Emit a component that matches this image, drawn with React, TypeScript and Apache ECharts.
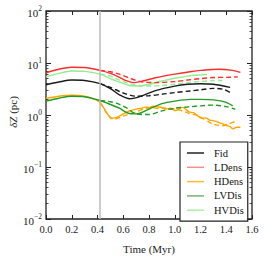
import React, { useEffect, useRef } from "react";
import * as echarts from "echarts";

// ---- data ----
const fidT = [0, 0.1, 0.2, 0.3, 0.42, 0.5, 0.57, 0.65, 0.75, 0.85, 1.0, 1.1, 1.2, 1.3, 1.43];
const fidV = [3.8, 4.3, 4.7, 4.6, 4.0, 3.2, 2.45, 2.05, 2.35, 2.95, 3.6, 3.9, 4.0, 3.9, 3.4];
const fidDashT = [0.42, 0.5, 0.6, 0.7, 0.8, 0.9, 1.0, 1.12, 1.2, 1.3, 1.38, 1.43];
const fidDashV = [4.0, 3.4, 2.65, 2.3, 2.35, 2.5, 2.7, 2.9, 3.05, 3.25, 3.1, 2.7];

const ldT = [0, 0.1, 0.2, 0.3, 0.42, 0.5, 0.57, 0.62, 0.68, 0.75, 0.85, 1.0, 1.12, 1.2, 1.34, 1.45, 1.51];
const ldV = [6.5, 7.6, 8.3, 8.2, 7.2, 6.3, 5.3, 4.6, 4.2, 4.5, 5.2, 6.1, 6.8, 7.2, 7.6, 7.2, 6.6];
const ldDashT = [0.42, 0.5, 0.57, 0.65, 0.75, 0.85, 1.0, 1.1, 1.2, 1.3, 1.4, 1.49];
const ldDashV = [7.2, 6.8, 6.1, 5.1, 4.3, 4.2, 4.4, 4.7, 5.0, 5.25, 5.3, 5.4];

const hdT = [0, 0.1, 0.2, 0.3, 0.38, 0.42, 0.45, 0.48, 0.51, 0.55, 0.6, 0.64, 0.7, 0.74, 0.77, 0.8, 0.83, 0.87, 0.9, 0.93, 0.97, 1.0, 1.03, 1.06, 1.08, 1.11, 1.15, 1.18, 1.21, 1.24, 1.27, 1.3, 1.34, 1.37, 1.4, 1.43, 1.45, 1.48, 1.51];
const hdV = [2.1, 2.3, 2.4, 2.3, 2.0, 1.75, 1.35, 1.02, 0.87, 0.9, 1.05, 1.18, 1.3, 1.35, 1.42, 1.4, 1.47, 1.43, 1.4, 1.3, 1.35, 1.2, 1.3, 1.4, 1.32, 1.15, 1.1, 0.95, 0.86, 0.88, 0.8, 0.78, 0.72, 0.68, 0.63, 0.6, 0.54, 0.58, 0.58];
const hdDashT = [0.42, 0.46, 0.5, 0.53, 0.6, 0.7, 0.76, 0.82, 0.87, 0.92, 1.0, 1.05, 1.1, 1.14, 1.18, 1.22, 1.26, 1.29, 1.33, 1.37, 1.41, 1.45, 1.49];
const hdDashV = [1.75, 1.2, 0.88, 0.83, 0.95, 1.15, 1.3, 1.38, 1.33, 1.36, 1.3, 1.22, 1.1, 1.03, 0.98, 0.85, 0.75, 0.68, 0.64, 0.62, 0.66, 0.72, 0.75];

const lvT = [0, 0.1, 0.2, 0.3, 0.42, 0.5, 0.57, 0.64, 0.7, 0.8, 0.9, 1.0, 1.12, 1.2, 1.3, 1.4, 1.45];
const lvV = [1.85, 2.1, 2.3, 2.25, 1.9, 1.6, 1.35, 1.08, 1.05, 1.3, 1.65, 1.85, 2.0, 2.0, 1.95, 1.75, 1.5];
const lvDashT = [0.42, 0.5, 0.57, 0.63, 0.7, 0.8, 0.9, 1.0, 1.12, 1.2, 1.3, 1.4, 1.47];
const lvDashV = [1.9, 1.8, 1.6, 1.35, 1.05, 1.02, 1.2, 1.35, 1.44, 1.5, 1.55, 1.45, 1.29];

const hvT = [0, 0.1, 0.2, 0.3, 0.42, 0.5, 0.57, 0.65, 0.72, 0.8, 0.9, 1.0, 1.1, 1.2, 1.25];
const hvV = [5.4, 6.3, 7.0, 6.9, 6.1, 5.0, 4.3, 3.7, 3.6, 3.9, 4.5, 5.1, 5.6, 5.9, 6.0];
const hvDashT = [0.42, 0.5, 0.57, 0.65, 0.72, 0.8, 0.9, 1.0, 1.1, 1.2, 1.3, 1.37];
const hvDashV = [6.1, 5.6, 4.7, 4.0, 3.7, 3.6, 3.7, 3.9, 4.2, 4.4, 4.6, 4.6];

const legendNames = ["Fid", "LDens", "HDens", "LVDis", "HVDis"];
const xTicks = [0, 0.2, 0.4, 0.6, 0.8, 1.0, 1.2, 1.4, 1.6];
const eventTime = 0.42;

const FONT = "Liberation Serif, DejaVu Serif, serif";
const pairs = (t: number[], v: number[]) => t.map((x, i) => [x, v[i]]);

const minorVals: number[] = [];
[0.01, 0.1, 1, 10].forEach((d) => {
  for (let k = 2; k <= 9; k++) minorVals.push(+(d * k).toPrecision(3));
});

export default function App() {
  const ref = useRef<HTMLDivElement>(null);
  useEffect(() => {
    if (!ref.current) return;
    const chart = echarts.init(ref.current, null, { renderer: "svg" });
    const line = (name: string, data: number[][], color: string, dashed: boolean, smooth: number) => ({
      type: "line",
      name,
      data,
      smooth,
      symbol: "none",
      lineStyle: { color, width: 1.4, type: dashed ? [5, 3] : "solid" },
      itemStyle: { color },
    });
    const C = { fid: "#1a1a1a", ld: "#ff2a2a", hd: "#ffa500", lv: "#239b23", hv: "#90ee90" };
    const yCommon = {
      type: "log",
      min: 0.01,
      max: 100,
      logBase: 10,
      axisLine: { show: false },
      splitLine: { show: false },
    };
    const series: any[] = [
      line("HVDis", pairs(hvT, hvV), C.hv, false, 0.3),
      line("HVDis_r", pairs(hvDashT, hvDashV), C.hv, true, 0.3),
      line("LDens", pairs(ldT, ldV), C.ld, false, 0.3),
      line("LDens_r", pairs(ldDashT, ldDashV), C.ld, true, 0.3),
      line("Fid", pairs(fidT, fidV), C.fid, false, 0.3),
      line("Fid_r", pairs(fidDashT, fidDashV), C.fid, true, 0.3),
      line("HDens", pairs(hdT, hdV), C.hd, false, 0.15),
      line("HDens_r", pairs(hdDashT, hdDashV), C.hd, true, 0.15),
      line("LVDis", pairs(lvT, lvV), C.lv, false, 0.3),
      line("LVDis_r", pairs(lvDashT, lvDashV), C.lv, true, 0.3),
    ];
    series[0].markLine = {
      silent: true,
      symbol: ["none", "none"],
      label: { show: false },
      lineStyle: { color: "#bbbbbb", width: 1.5, type: "solid" },
      data: [{ xAxis: eventTime }],
    };
    chart.setOption({
      animation: false,
      grid: { left: 46, right: 14, top: 11, bottom: 35, show: true, borderColor: "#222", borderWidth: 1.3, backgroundColor: "transparent" },
      xAxis: [
        {
          type: "value",
          min: 0,
          max: 1.6,
          interval: 0.2,
          position: "bottom",
          axisLine: { show: false },
          splitLine: { show: false },
          axisTick: { inside: true, length: 4, lineStyle: { color: "#222", width: 1 }, customValues: xTicks },
          axisLabel: { margin: 5, fontFamily: FONT, fontSize: 10.5, color: "#222", formatter: (v: number) => v.toFixed(1), customValues: xTicks },
          name: "Time (Myr)",
          nameLocation: "middle",
          nameGap: 24,
          nameTextStyle: { fontFamily: FONT, fontSize: 11, color: "#222" },
        },
        {
          type: "value",
          min: 0,
          max: 1.6,
          interval: 0.2,
          position: "top",
          axisLine: { show: false },
          splitLine: { show: false },
          axisTick: { inside: true, length: 4, lineStyle: { color: "#222", width: 1 } },
          axisLabel: { show: false },
        },
      ],
      yAxis: [
        {
          ...yCommon,
          position: "left",
          axisTick: { inside: true, length: 5, lineStyle: { color: "#222", width: 1 } },
          axisLabel: {
            margin: 4,
            formatter: (v: number) => {
              const e = Math.round(Math.log10(v));
              return `{b|10}{s|${e < 0 ? "\u2212" + -e : e}}`;
            },
            rich: {
              b: { fontFamily: FONT, fontSize: 11, color: "#222", lineHeight: 14, verticalAlign: "bottom" },
              s: { fontFamily: FONT, fontSize: 7.5, color: "#222", lineHeight: 9, verticalAlign: "top" },
            },
          },
        },
        {
          ...yCommon,
          position: "left",
          axisTick: { inside: true, length: 2.5, lineStyle: { color: "#222", width: 0.8 }, customValues: minorVals },
          axisLabel: { show: false },
        },
        {
          ...yCommon,
          position: "right",
          axisTick: { inside: true, length: 5, lineStyle: { color: "#222", width: 1 } },
          axisLabel: { show: false },
        },
        {
          ...yCommon,
          position: "right",
          axisTick: { inside: true, length: 2.5, lineStyle: { color: "#222", width: 0.8 }, customValues: minorVals },
          axisLabel: { show: false },
        },
      ],
      graphic: [
        {
          type: "text",
          x: 13,
          y: 112,
          rotation: Math.PI / 2,
          style: {
            text: "{i|\u03b4Z} (pc)",
            fontFamily: FONT,
            fontSize: 11,
            fill: "#222",
            align: "center",
            verticalAlign: "middle",
            rich: { i: { fontFamily: FONT, fontSize: 11, fontStyle: "italic", fill: "#222" } },
          },
        },
      ],
      legend: {
        left: 180,
        top: 142,
        orient: "vertical",
        backgroundColor: "#fff",
        borderColor: "#222",
        borderWidth: 1.2,
        borderRadius: 0,
        padding: [5, 4, 5, 7],
        itemGap: 2.3,
        itemWidth: 17,
        itemHeight: 1.5,
        icon: "rect",
        textStyle: { fontFamily: FONT, fontSize: 10.5, color: "#111", lineHeight: 12, padding: [0, 0, 0, 5] },
        data: [
          { name: legendNames[0], itemStyle: { color: "#222" } },
          { name: legendNames[1], itemStyle: { color: "#ff8c8c" } },
          { name: legendNames[2], itemStyle: { color: "#ffbb33" } },
          { name: legendNames[3], itemStyle: { color: "#6fb86f" } },
          { name: legendNames[4], itemStyle: { color: "#a8f2a8" } },
        ],
      },
      series,
    });
    return () => chart.dispose();
  }, []);
  return <div ref={ref} style={{ position: "absolute", left: 0, top: 0, width: 266, height: 259, background: "#fff" }} />;
}
